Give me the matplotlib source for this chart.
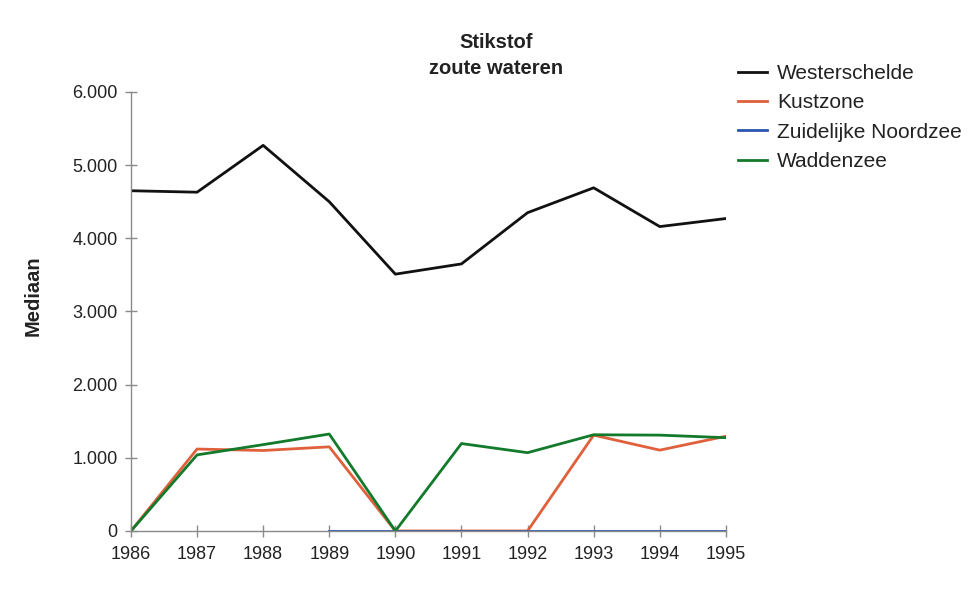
import matplotlib.pyplot as plt
from matplotlib.ticker import FuncFormatter

# Data
jaren = [1986, 1987, 1988, 1989, 1990, 1991, 1992, 1993, 1994, 1995]
westerschelde = [4650, 4630, 5270, 4500, 3510, 3650, 4350, 4690, 4160, 4270]
kustzone = [0, 1120, 1100, 1150, 0, 0, 0, 1310, 1105, 1295]
noordzee_jaren = [1989, 1990, 1991, 1992, 1993, 1994, 1995]
zuidelijke_noordzee = [0, 0, 0, 0, 0, 0, 0]
waddenzee = [0, 1040, 1180, 1325, 0, 1195, 1070, 1315, 1310, 1275]

plt.rcParams['font.family'] = ['Liberation Sans', 'DejaVu Sans']

fig = plt.figure(figsize=(9.73, 6.01), dpi=100)
ax = fig.add_axes([0.1346, 0.1165, 0.6114, 0.7305])

ax.plot(jaren, westerschelde, color='#111111', lw=2, label='Westerschelde')
ax.plot(jaren, kustzone, color='#e0603c', lw=2, label='Kustzone')
ax.plot(noordzee_jaren, zuidelijke_noordzee, color='#2a55b0', lw=2,
        label='Zuidelijke Noordzee')
ax.plot(jaren, waddenzee, color='#137a2c', lw=2, label='Waddenzee')

ax.set_xlim(1986, 1995)
ax.set_ylim(0, 6000)
ax.set_xticks(jaren)
ax.set_yticks(range(0, 6001, 1000))
ax.yaxis.set_major_formatter(FuncFormatter(lambda v, p: f'{int(v):,}'.replace(',', '.')))

for s in ['top', 'right']:
    ax.spines[s].set_visible(False)
for s in ['left', 'bottom']:
    ax.spines[s].set_color('#8a8a8a')
    ax.spines[s].set_linewidth(1)

ax.tick_params(direction='inout', length=9, width=1, color='#8a8a8a',
               labelsize=13, labelcolor='#222222')
ax.tick_params(axis='x', pad=6)
ax.tick_params(axis='y', pad=5)

# as-label staat iets boven het midden van de as
fig.text(33 / 973, 1 - 296 / 601, 'Mediaan', rotation=90, ha='center', va='center',
         fontsize=14.5, fontweight='bold', color='#222222')

fig.text(0.51, 0.930, 'Stikstof', ha='center', va='center',
         fontsize=14.5, fontweight='bold', color='#222222')
fig.text(0.51, 0.886, 'zoute wateren', ha='center', va='center',
         fontsize=14.5, fontweight='bold', color='#222222')

fig.legend(loc='upper left', bbox_to_anchor=(0.739, 0.925), frameon=False,
           fontsize=15, handlelength=1.4, handletextpad=0.5,
           labelspacing=0.5, labelcolor='#222222')

fig.savefig('out.png', dpi=100, facecolor='white')
